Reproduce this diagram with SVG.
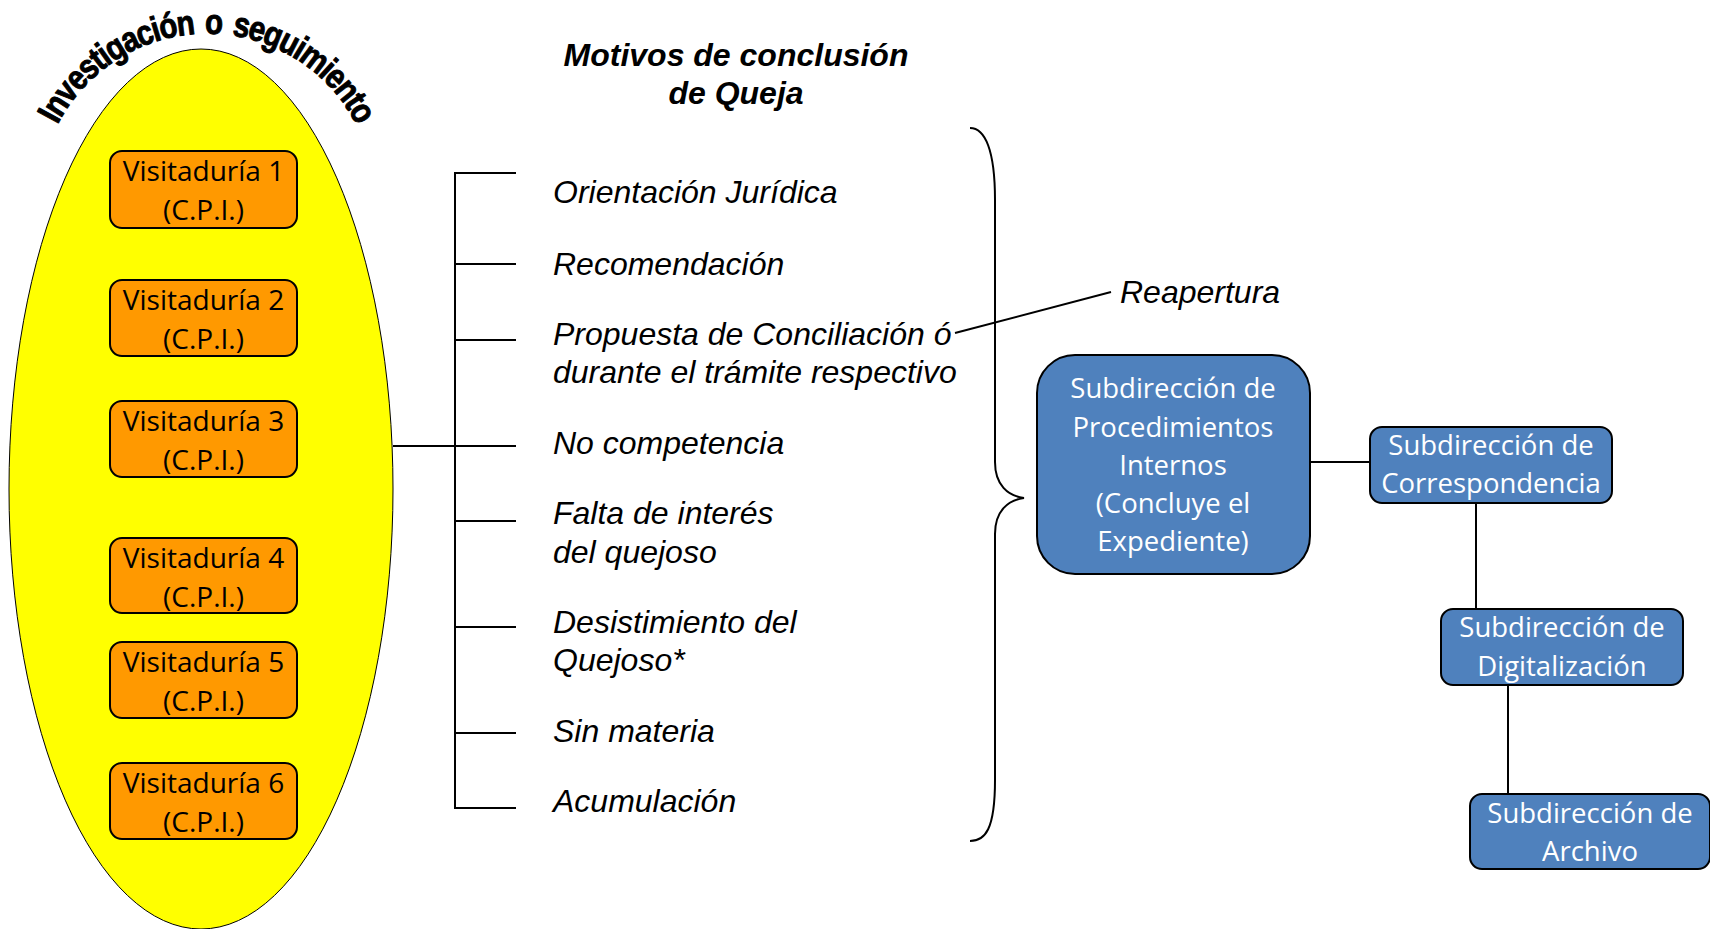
<svg xmlns="http://www.w3.org/2000/svg" width="1710" height="929" viewBox="0 0 1710 929">
<style>
.orange{fill:#FF9900;stroke:#000;stroke-width:2}
.blue{fill:#4F81BD;stroke:#000;stroke-width:2}
.ot{font-family:"Open Sans","Liberation Sans",sans-serif;font-size:28px;fill:#000;text-anchor:middle}
.bt{font-family:"Open Sans","Liberation Sans",sans-serif;font-size:27.5px;fill:#fff;text-anchor:middle}
.it{font-family:"Liberation Sans",Arial,sans-serif;font-size:32px;font-style:italic;fill:#000}
.hd{font-family:"Liberation Sans",Arial,sans-serif;font-size:32px;font-style:italic;font-weight:bold;fill:#000;text-anchor:middle}
.ttl{font-family:"Liberation Sans",Arial,sans-serif;font-size:35px;font-weight:bold;letter-spacing:-1.5px;word-spacing:4px;fill:#000;stroke:#000;stroke-width:1;stroke-linejoin:round}
.ln{fill:none;stroke:#000;stroke-width:2}
</style>
<defs>
<path id="arc" d="M39.6,187.4 A168,168 0 0 1 374.4,187.4"/>
</defs>
<rect width="1710" height="929" fill="#fff"/>
<g id="ellipse">
<ellipse cx="201" cy="489" rx="192" ry="440" fill="#FFFF00" stroke="#000" stroke-width="1"/>
<text class="ttl"><textPath href="#arc" startOffset="50%" text-anchor="middle" textLength="368" lengthAdjust="spacingAndGlyphs">Investigación o seguimiento</textPath></text>
</g>
<g id="v1"><rect class="orange" x="110" y="151" width="187" height="77" rx="12"/><text class="ot" x="203.5" y="181">Visitaduría 1</text><text class="ot" x="203.5" y="220">(C.P.I.)</text></g>
<g id="v2"><rect class="orange" x="110" y="280" width="187" height="76" rx="12"/><text class="ot" x="203.5" y="310">Visitaduría 2</text><text class="ot" x="203.5" y="349">(C.P.I.)</text></g>
<g id="v3"><rect class="orange" x="110" y="401" width="187" height="76" rx="12"/><text class="ot" x="203.5" y="431">Visitaduría 3</text><text class="ot" x="203.5" y="470">(C.P.I.)</text></g>
<g id="v4"><rect class="orange" x="110" y="538" width="187" height="75" rx="12"/><text class="ot" x="203.5" y="568">Visitaduría 4</text><text class="ot" x="203.5" y="607">(C.P.I.)</text></g>
<g id="v5"><rect class="orange" x="110" y="642" width="187" height="76" rx="12"/><text class="ot" x="203.5" y="672">Visitaduría 5</text><text class="ot" x="203.5" y="711">(C.P.I.)</text></g>
<g id="v6"><rect class="orange" x="110" y="763" width="187" height="76" rx="12"/><text class="ot" x="203.5" y="793">Visitaduría 6</text><text class="ot" x="203.5" y="832">(C.P.I.)</text></g>
<g id="heading"><text class="hd" x="736" y="66">Motivos de conclusión</text><text class="hd" x="736" y="104">de Queja</text></g>
<g id="motivos">
<text class="it" x="553" y="203">Orientación Jurídica</text>
<text class="it" x="553" y="275">Recomendación</text>
<text class="it" x="553" y="345">Propuesta de Conciliación ó</text>
<text class="it" x="553" y="383">durante el trámite respectivo</text>
<text class="it" x="553" y="454">No competencia</text>
<text class="it" x="553" y="524">Falta de interés</text>
<text class="it" x="553" y="563">del quejoso</text>
<text class="it" x="553" y="633">Desistimiento del</text>
<text class="it" x="553" y="671">Quejoso*</text>
<text class="it" x="553" y="742">Sin materia</text>
<text class="it" x="553" y="812">Acumulación</text>
</g>
<g id="reapertura"><text class="it" x="1120" y="303">Reapertura</text></g>
<g id="spi"><rect class="blue" x="1037" y="355" width="273" height="219" rx="38"/>
<text class="bt" x="1173" y="398">Subdirección de</text><text class="bt" x="1173" y="437">Procedimientos</text><text class="bt" x="1173" y="475">Internos</text><text class="bt" x="1173" y="513">(Concluye el</text><text class="bt" x="1173" y="551">Expediente)</text></g>
<g id="corr"><rect class="blue" x="1370" y="427" width="242" height="76" rx="12"/><text class="bt" x="1491" y="455">Subdirección de</text><text class="bt" x="1491" y="493">Correspondencia</text></g>
<g id="dig"><rect class="blue" x="1441" y="609" width="242" height="76" rx="12"/><text class="bt" x="1562" y="637">Subdirección de</text><text class="bt" x="1562" y="676">Digitalización</text></g>
<g id="arch"><rect class="blue" x="1470" y="794" width="240" height="75" rx="12"/><text class="bt" x="1590" y="823">Subdirección de</text><text class="bt" x="1590" y="861">Archivo</text></g>
<g id="connectors" class="ln">
<path d="M393,446 H516"/>
<path d="M516,173 H455 V808 H516"/>
<path d="M455,264 H516 M455,340 H516 M455,521 H516 M455,627 H516 M455,733 H516"/>
<path d="M955,333 L1111,292"/>
<path d="M970,128 C985,128 995,150 995,200 L995,462 C995,485 1008,496 1024,498 C1008,500 995,511 995,534 L995,780 C995,830 985,841 970,841"/>
<path d="M1310,462 H1370"/>
<path d="M1476,503 V609"/>
<path d="M1508,685 V794"/>
</g>
</svg>
